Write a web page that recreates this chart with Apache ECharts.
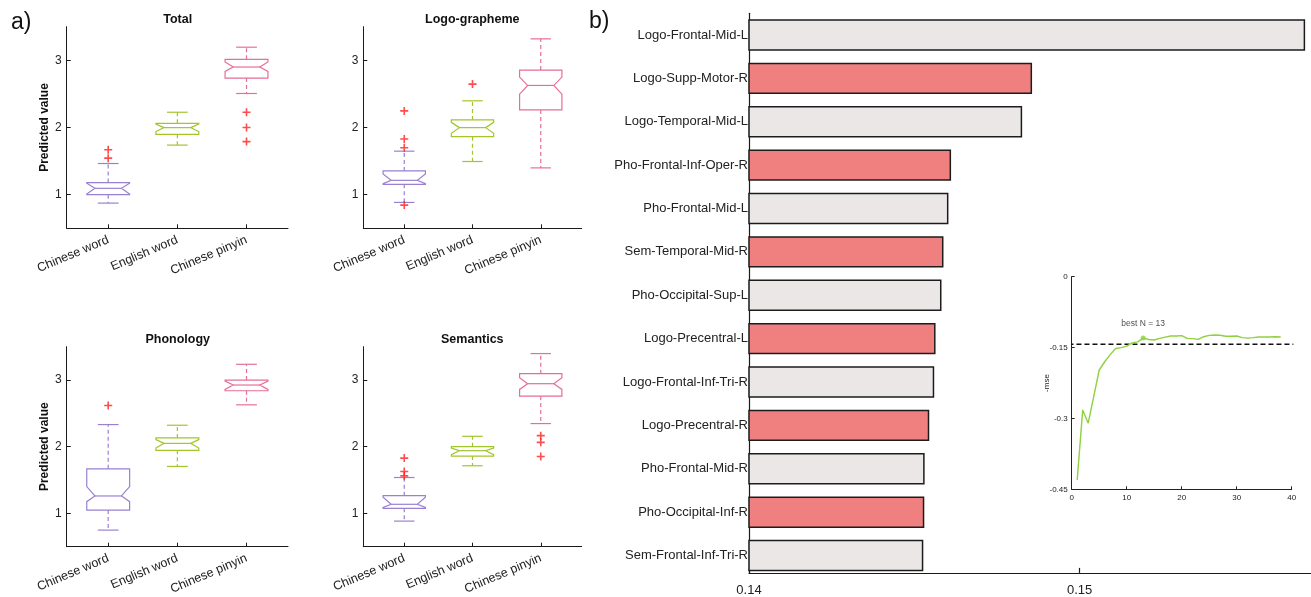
<!DOCTYPE html>
<html><head><meta charset="utf-8">
<script src="https://cdn.jsdelivr.net/npm/echarts@6/dist/echarts.min.js"></script>
<style>html,body{margin:0;padding:0;background:#fff}#c{width:1311px;height:597px}</style>
</head><body><div id="c"></div>
<script>
// ---------- data ----------
const categories = ['Chinese word', 'English word', 'Chinese pinyin'];
const panelTitles = ['Total', 'Logo-grapheme', 'Phonology', 'Semantics'];
// per category: [whiskerLow, q1, notchLow, median, notchHigh, q3, whiskerHigh]
const totalStats = [
  [0.875, 1.0, 1.01, 1.095, 1.172, 1.18, 1.464],
  [1.738, 1.898, 1.94, 1.998, 2.05, 2.062, 2.227],
  [2.506, 2.736, 2.835, 2.90, 2.975, 3.015, 3.195]
];
const totalOutliers = [[1.668, 1.544], [], [2.227, 2.0, 1.79]];
const logoStats = [
  [0.885, 1.155, 1.165, 1.214, 1.31, 1.354, 1.648],
  [1.494, 1.863, 1.913, 1.998, 2.077, 2.112, 2.397],
  [1.399, 2.262, 2.496, 2.626, 2.75, 2.855, 3.319]
];
const logoOutliers = [[2.247, 1.828, 1.698, 0.845], [2.646], []];
const phonStats = [
  [0.749, 1.05, 1.176, 1.261, 1.402, 1.668, 2.332],
  [1.704, 1.945, 1.98, 2.05, 2.106, 2.131, 2.322],
  [2.628, 2.839, 2.859, 2.925, 2.985, 3.0, 3.236]
];
const phonOutliers = [[2.618], [], []];
const semStats = [
  [0.884, 1.075, 1.09, 1.136, 1.241, 1.266, 1.538],
  [1.714, 1.859, 1.88, 1.94, 1.98, 2.0, 2.156],
  [2.347, 2.759, 2.859, 2.945, 3.035, 3.095, 3.397]
];
const semOutliers = [[1.829, 1.628, 1.563], [], [2.166, 2.065, 1.854]];
const boxTicks = [1, 2, 3];

const regions = ['Logo-Frontal-Mid-L', 'Logo-Supp-Motor-R', 'Logo-Temporal-Mid-L', 'Pho-Frontal-Inf-Oper-R',
  'Pho-Frontal-Mid-L', 'Sem-Temporal-Mid-R', 'Pho-Occipital-Sup-L', 'Logo-Precentral-L',
  'Logo-Frontal-Inf-Tri-R', 'Logo-Precentral-R', 'Pho-Frontal-Mid-R', 'Pho-Occipital-Inf-R', 'Sem-Frontal-Inf-Tri-R'];
const importance = [0.15680, 0.14854, 0.14824, 0.14609, 0.14601, 0.14586, 0.14580, 0.14562,
  0.14558, 0.14543, 0.14529, 0.14528, 0.14525];
const highlighted = [0, 1, 0, 1, 0, 1, 0, 1, 0, 1, 0, 1, 0];
const barTicks = [0.14, 0.15];

const nFeatures = [1,2,3,4,5,6,7,8,9,10,11,12,13,14,15,16,17,18,19,20,21,22,23,24,25,26,27,28,29,30,31,32,33,34,35,36,37,38];
const negMse = [-0.430, -0.282, -0.310, -0.254, -0.1975, -0.180, -0.165, -0.152, -0.150, -0.147,
  -0.140, -0.138, -0.130, -0.133, -0.134, -0.1305, -0.128, -0.1256, -0.1256, -0.1248,
  -0.1305, -0.131, -0.1326, -0.127, -0.1241, -0.1234, -0.124, -0.126, -0.126, -0.1255,
  -0.129, -0.130, -0.129, -0.1277, -0.1277, -0.1277, -0.127, -0.1277];
const baselineMse = -0.143;
const bestN = 13;

// ---------- styling ----------
const FONT = '"Liberation Sans", Arial, Helvetica, sans-serif';
const boxColors = ['#9b80d2', '#a2c52c', '#e66f98'];
const panels = [
  {stats: totalStats, out: totalOutliers, grid: {left: 66.7, top: 26.7, width: 221.3, height: 201.6}, ylab: true, tx: 177.7, ty: 20},
  {stats: logoStats, out: logoOutliers, grid: {left: 363.3, top: 26.7, width: 218.4, height: 201.6}, ylab: false, tx: 472.3, ty: 20},
  {stats: phonStats, out: phonOutliers, grid: {left: 66.7, top: 346.7, width: 221.3, height: 200}, ylab: true, tx: 177.7, ty: 340},
  {stats: semStats, out: semOutliers, grid: {left: 363.3, top: 346.7, width: 218.4, height: 200}, ylab: false, tx: 472.3, ty: 340}
];

const grids = [], xAxes = [], yAxes = [], series = [], graphics = [];
const axisLineStyle = {color: '#1a1a1a', width: 1};

function renderBox(params, api) {
  const x = api.value(0);
  const wl = api.value(1), q1 = api.value(2), nl = api.value(3), md = api.value(4),
        nh = api.value(5), q3 = api.value(6), wh = api.value(7);
  const color = boxColors[api.value(8)];
  const hw = 0.31, nw = 0.31 * 0.62, cw = 0.15;
  const P = (dx, v) => api.coord([x + dx, v]);
  const lw = 1.2;
  const poly = [P(-hw, q1), P(-hw, nl), P(-nw, md), P(-hw, nh), P(-hw, q3), P(hw, q3), P(hw, nh), P(nw, md), P(hw, nl), P(hw, q1)];
  const line = (a, b, dash) => ({type: 'line', shape: {x1: a[0], y1: a[1], x2: b[0], y2: b[1]},
    style: {stroke: color, lineWidth: lw, lineDash: dash || null, fill: null}});
  return {type: 'group', children: [
    {type: 'polygon', shape: {points: poly}, style: {fill: null, stroke: color, lineWidth: lw}},
    line(P(-nw, md), P(nw, md)),
    line(P(0, q3), P(0, wh), [4, 3]),
    line(P(0, q1), P(0, wl), [4, 3]),
    line(P(-cw, wh), P(cw, wh)),
    line(P(-cw, wl), P(cw, wl))
  ]};
}

const plusPath = 'path://M4,0H6V4H10V6H6V10H4V6H0V4H4Z';

panels.forEach((p, i) => {
  grids.push(Object.assign({containLabel: false}, p.grid));
  xAxes.push({
    type: 'value', gridIndex: i, min: 0.4, max: 3.6,
    axisLine: {show: true, onZero: false, lineStyle: axisLineStyle},
    axisTick: {show: true, inside: true, length: 4, customValues: boxTicks, lineStyle: axisLineStyle},
    axisLabel: {customValues: boxTicks, formatter: v => categories[Math.round(v) - 1] || '', rotate: 23,
      fontSize: 12.5, fontFamily: FONT, color: '#222', margin: 11},
    splitLine: {show: false}
  });
  yAxes.push({
    type: 'value', gridIndex: i, min: 0.5, max: 3.5,
    name: p.ylab ? 'Predicted value' : '', nameLocation: 'middle', nameGap: 16, nameMoveOverlap: false,
    nameTextStyle: {fontSize: 12, fontWeight: 'bold', fontFamily: FONT, color: '#111'},
    axisLine: {show: true, onZero: false, lineStyle: axisLineStyle},
    axisTick: {show: true, inside: true, length: 4, customValues: boxTicks, lineStyle: axisLineStyle},
    axisLabel: {customValues: boxTicks, formatter: v => String(v), fontSize: 12, fontFamily: FONT, color: '#222', margin: 5},
    splitLine: {show: false}
  });
  const boxData = p.stats.map((s, ci) => [boxTicks[ci], ...s, ci]);
  series.push({
    type: 'custom', xAxisIndex: i, yAxisIndex: i, renderItem: renderBox,
    encode: {x: 0, y: [1, 2, 3, 4, 5, 6, 7]}, data: boxData, silent: true
  });
  const outData = [];
  p.out.forEach((arr, ci) => arr.forEach(v => outData.push([boxTicks[ci], v])));
  series.push({
    type: 'scatter', xAxisIndex: i, yAxisIndex: i, data: outData, symbol: plusPath, symbolSize: 8,
    itemStyle: {color: '#ff1f1f'}, silent: true
  });
  graphics.push({type: 'text', x: p.tx, y: p.ty, style: {text: panelTitles[i], font: 'bold 12.5px ' + FONT,
    fill: '#111', textAlign: 'center', textVerticalAlign: 'middle', verticalAlign: 'middle'}});
});

// ---------- bar chart (b) ----------
grids.push({left: 749, top: 13.3, width: 565.6, height: 559.6});
xAxes.push({
  type: 'value', gridIndex: 4, min: 0.14, max: 0.157,
  axisLine: {show: true, onZero: false, lineStyle: {color: '#1a1a1a', width: 1.2}},
  axisTick: {show: true, inside: true, length: 5, customValues: barTicks, lineStyle: {color: '#1a1a1a', width: 1.2}},
  axisLabel: {customValues: barTicks, formatter: v => v.toFixed(2), fontSize: 13, fontFamily: FONT, color: '#222', margin: 11},
  splitLine: {show: false}
});
const barPos = regions.map((r, i) => i + 1);
yAxes.push({
  type: 'value', gridIndex: 4, min: 0.5, max: 13.4, inverse: true,
  axisLine: {show: true, onZero: false, lineStyle: {color: '#1a1a1a', width: 1.2}},
  axisTick: {show: false},
  axisLabel: {customValues: barPos, formatter: v => regions[Math.round(v) - 1] || '', fontSize: 13,
    fontFamily: FONT, color: '#222', margin: 1},
  splitLine: {show: false}
});
series.push({
  type: 'custom', xAxisIndex: 4, yAxisIndex: 4, silent: true,
  data: importance.map((v, i) => [v, barPos[i], highlighted[i]]),
  encode: {x: 0, y: 1},
  renderItem: (params, api) => {
    const v = api.value(0), pos = api.value(1), hl = api.value(2);
    const a = api.coord([0.14, pos - 0.345]);
    const b = api.coord([v, pos + 0.345]);
    return {type: 'rect',
      shape: {x: Math.min(a[0], b[0]), y: Math.min(a[1], b[1]), width: Math.abs(b[0] - a[0]), height: Math.abs(b[1] - a[1])},
      style: {fill: hl ? '#f08080' : '#ebe7e7', stroke: '#1c1c1c', lineWidth: 1.5}};
  }
});

// ---------- inset ----------
grids.push({left: 1071.7, top: 276.7, width: 220, height: 212.6});
xAxes.push({
  type: 'value', gridIndex: 5, min: 0, max: 40, interval: 10,
  axisLine: {show: true, onZero: false, lineStyle: {color: '#222', width: 1}},
  axisTick: {show: true, inside: true, length: 3, lineStyle: {color: '#222'}},
  axisLabel: {fontSize: 8, fontFamily: FONT, color: '#222', margin: 4},
  splitLine: {show: false}
});
yAxes.push({
  type: 'value', gridIndex: 5, min: -0.45, max: 0, interval: 0.15,
  name: '-mse', nameLocation: 'middle', nameGap: 21, nameMoveOverlap: false,
  nameTextStyle: {fontSize: 8, fontFamily: FONT, color: '#222'},
  axisLine: {show: true, onZero: false, lineStyle: {color: '#222', width: 1}},
  axisTick: {show: true, inside: true, length: 3, lineStyle: {color: '#222'}},
  axisLabel: {fontSize: 8, fontFamily: FONT, color: '#222', margin: 4,
    formatter: v => String(+v.toFixed(2))},
  splitLine: {show: false}
});
series.push({
  type: 'line', xAxisIndex: 5, yAxisIndex: 5, clip: false, silent: true, showSymbol: false,
  data: [[-3.5, baselineMse], [40.3, baselineMse]],
  lineStyle: {color: '#111', width: 1.3, type: [5, 3]}
});
series.push({
  type: 'line', xAxisIndex: 5, yAxisIndex: 5, silent: true, showSymbol: false,
  data: nFeatures.map((n, i) => [n, negMse[i]]),
  lineStyle: {color: '#8fd13f', width: 1.4}
});
series.push({
  type: 'scatter', xAxisIndex: 5, yAxisIndex: 5, silent: true, symbolSize: 5,
  data: [[bestN, negMse[nFeatures.indexOf(bestN)]]],
  itemStyle: {color: '#8fd13f'},
  label: {show: true, position: 'top', distance: 7, formatter: 'best N = ' + bestN, fontSize: 8.5, fontFamily: FONT, color: '#222'}
});

graphics.push({type: 'text', x: 11, y: 23, style: {text: 'a)', font: '23px ' + FONT, fill: '#111', textVerticalAlign: 'middle', verticalAlign: 'middle'}});
graphics.push({type: 'text', x: 589, y: 22, style: {text: 'b)', font: '23px ' + FONT, fill: '#111', textVerticalAlign: 'middle', verticalAlign: 'middle'}});

const chart = echarts.init(document.getElementById('c'), null, {renderer: 'canvas'});
chart.setOption({
  animation: false,
  backgroundColor: '#fff',
  textStyle: {fontFamily: FONT},
  grid: grids, xAxis: xAxes, yAxis: yAxes, series: series, graphic: graphics
});
</script></body></html>
